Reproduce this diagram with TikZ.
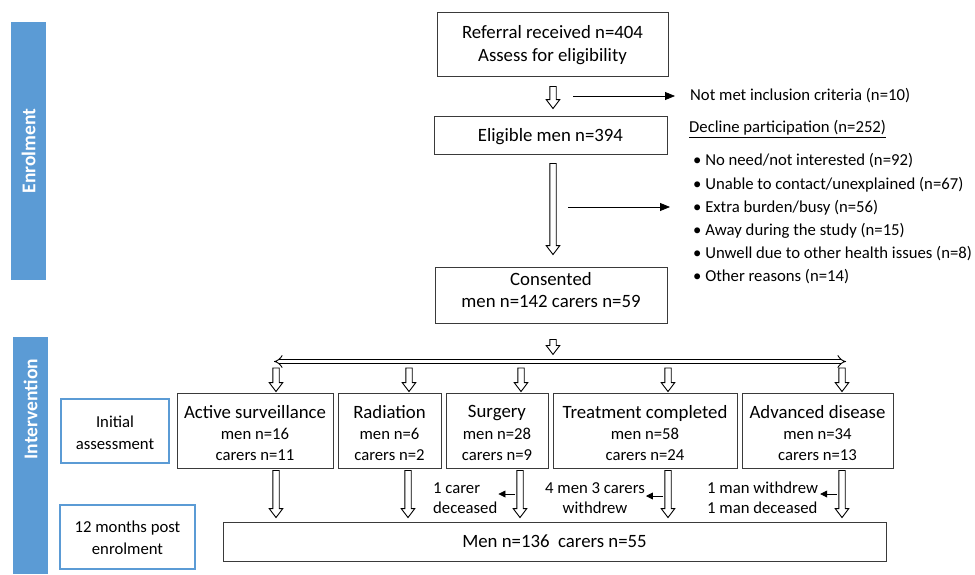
\documentclass[tikz,border=0pt]{standalone}
\usepackage{fontspec}
\setmainfont{Carlito}
\usetikzlibrary{calc,arrows.meta}
\definecolor{barblue}{HTML}{5B9BD5}
\definecolor{boxline}{HTML}{3A3A3A}
\newcommand\fbig{\fontsize{18.8}{22.5}\selectfont}
\newcommand\fsm{\fontsize{16.7}{20.5}\selectfont}
\newcommand\fbar{\fontsize{19.5}{22}\selectfont\bfseries}
% hollow down arrow: #1 start, #2 end (vertical)
\newcommand\hollowdown[2]{%
  \draw[hollow] let \p1=#1, \p2=#2 in
    (\x1-3.2pt,\y1) -- (\x1-3.2pt,\y2+9pt) -- (\x1-6.8pt,\y2+9pt) -- (\x1,\y2)
    -- (\x1+6.8pt,\y2+9pt) -- (\x1+3.2pt,\y2+9pt) -- (\x1+3.2pt,\y1) -- cycle;}
\begin{document}
\begin{tikzpicture}[x=1pt,y=-1pt,
  box/.style={draw=boxline, line width=0.9pt, inner sep=0pt, align=center},
  bluebox/.style={draw=barblue, line width=1.4pt, inner sep=0pt, align=center, font=\fsm},
  hollow/.style={draw=black, line width=0.9pt, fill=white},
  thinarrow/.style={line width=0.8pt, -{Triangle[length=10pt,width=8pt]}},
  smallarrow/.style={line width=0.8pt, -{Triangle[length=7pt,width=7pt]}},
  lbl/.style={inner sep=0pt, font=\fsm},
  gtext/.style={inner sep=0pt, align=center, font=\fsm}]
\useasboundingbox (0,0) rectangle (975,574);

% side bars
\node[fill=barblue, minimum width=258, minimum height=35, rotate=90, text=white, font=\fbar, inner sep=0pt] (enr) at (28.5,151) {Enrolment};
\node[fill=barblue, minimum width=237, minimum height=35, rotate=90, inner sep=0pt] (intbar) at (30.5,455.5) {};
\node[rotate=90, text=white, font=\fbar, inner sep=0pt] (inttxt) at (30.5,409) {Intervention};

% phase labels
\node[bluebox, minimum width=108, minimum height=64] (init) at (115,431) {};
\node[gtext] (inittx) at (115,433) {Initial\\[1pt]assessment};
\node[bluebox, minimum width=135, minimum height=64] (twelve) at (127.5,537) {};
\node[gtext] (twelvetx) at (127.5,538) {12 months post\\[1pt]enrolment};

% enrolment boxes
\node[box, font=\fbig, minimum width=231, minimum height=64] (ref) at (552.5,44) {};
\node[gtext, font=\fbig] (reftx) at (552.5,45) {Referral received n=404\\[0.5pt]Assess for eligibility};
\node[box, font=\fbig, minimum width=233, minimum height=38] (elig) at (550.5,135) {};
\node[gtext, font=\fbig] (eligtx) at (550.5,136.5) {Eligible men n=394};
\node[box, font=\fbig, minimum width=232, minimum height=56] (cons) at (551,295) {};
\node[gtext, font=\fbig] (constx) at (551,290) {Consented\\men n=142 carers n=59};

% right texts
\node[lbl, anchor=west] (nm) at (690,96) {Not met inclusion criteria (n=10)};
\node[lbl, anchor=west] (dec) at (689,129) {\underline{Decline participation (n=252)}};
\node[lbl, anchor=west] (d1) at (693,161) {• No need/not interested (n=92)};
\node[lbl, anchor=west] (d2) at (693,184.5) {• Unable to contact/unexplained (n=67)};
\node[lbl, anchor=west] (d3) at (693,208) {• Extra burden/busy (n=56)};
\node[lbl, anchor=west] (d4) at (693,231) {• Away during the study (n=15)};
\node[lbl, anchor=west] (d5) at (693,254) {• Unwell due to other health issues (n=8)};
\node[lbl, anchor=west] (d6) at (693,277) {• Other reasons (n=14)};

% thin arrows
\coordinate (t1a) at (573,96);
\coordinate (t1b) at (675,96);
\coordinate (t2a) at (568,207);
\coordinate (t2b) at (670,207);
\draw[thinarrow] (t1a) -- (t1b);
\draw[thinarrow] (t2a) -- (t2b);

% hollow arrows in enrolment
\hollowdown{($(ref.south)+(0.5,10)$)}{($(elig.north)+(2.5,-7)$)}
\hollowdown{($(elig.south)+(2.5,9)$)}{($(cons.north)+(2,-12)$)}
\hollowdown{($(cons.south)+(2,16)$)}{($(cons.south)+(2,31)$)}

% horizontal distribution arrow
\coordinate (barL) at (274,361.5);
\coordinate (barR) at (846,361.5);
\draw[double, double distance=3.6pt, line width=0.9pt, {Implies}-{Implies}] (barL) -- (barR);

% group boxes
\node[box, minimum width=156, minimum height=75] (as) at (255,430.5) {};
\node[box, minimum width=103, minimum height=75] (rad) at (389.5,430.5) {};
\node[box, minimum width=102, minimum height=75] (sur) at (497,430.5) {};
\node[box, minimum width=184, minimum height=75] (trt) at (645,430.5) {};
\node[box, minimum width=151, minimum height=75] (adv) at (817.5,430.5) {};
\node[gtext] (astx) at (255,433) {{\fbig Active surveillance}\\[1pt]men n=16\\[0.5pt]carers n=11};
\node[gtext] (radtx) at (389.5,433) {{\fbig Radiation}\\[1pt]men n=6\\[0.5pt]carers n=2};
\node[gtext] (surtx) at (497,433) {{\fbig Surgery}\\[1pt]men n=28\\[0.5pt]carers n=9};
\node[gtext] (trttx) at (645,433) {{\fbig Treatment completed}\\[1pt]men n=58\\[0.5pt]carers n=24};
\node[gtext] (advtx) at (817.5,433) {{\fbig Advanced disease}\\[1pt]men n=34\\[0.5pt]carers n=13};

% final box
\node[box, font=\fbig, minimum width=663, minimum height=39] (fin) at (554.5,541.5) {Men n=136\ \ carers n=55};

% arrow x positions
\coordinate (x1) at (276,0);
\coordinate (x2) at (409,0);
\coordinate (x3) at (521,0);
\coordinate (x4) at (668,0);
\coordinate (x5) at (842,0);

\hollowdown{($(x1 |- barL)+(0,6.5)$)}{($(x1 |- as.north)+(0,-1)$)}
\hollowdown{($(x2 |- barL)+(0,6.5)$)}{($(x2 |- rad.north)+(0,-1)$)}
\hollowdown{($(x3 |- barL)+(0,6.5)$)}{($(x3 |- sur.north)+(0,-1)$)}
\hollowdown{($(x4 |- barL)+(0,6.5)$)}{($(x4 |- trt.north)+(0,-1)$)}
\hollowdown{($(x5 |- barL)+(0,6.5)$)}{($(x5 |- adv.north)+(0,-1)$)}

\hollowdown{($(x1 |- as.south)+(0,2)$)}{($(x1 |- fin.north)+(0,-4)$)}
\hollowdown{($(x2 |- rad.south)+(-1,2)$)}{($(x2 |- fin.north)+(-1,-4)$)}
\hollowdown{($(x3 |- sur.south)+(-1,2)$)}{($(x3 |- fin.north)+(-1,-4)$)}
\hollowdown{($(x4 |- trt.south)+(0,2)$)}{($(x4 |- fin.north)+(0,-4)$)}
\hollowdown{($(x5 |- adv.south)+(0,2)$)}{($(x5 |- fin.north)+(0,-4)$)}

% side labels
\node[lbl, align=left, anchor=west] (l1) at (433,498) {1 carer\\deceased};
\node[lbl, align=center] (l2) at (595,498) {4 men 3 carers\\withdrew};
\node[lbl, align=left, anchor=west] (l3) at (707,498) {1 man withdrew\\1 man deceased};

\coordinate (s1) at (515,494);
\coordinate (s2) at (663,496);
\coordinate (s3) at (837,494);
\draw[smallarrow] (s1) -- ($(s1 -| l1.east)+(1,0)$);
\draw[smallarrow] (s2) -- ($(s2 -| l2.east)+(1,0)$);
\draw[smallarrow] (s3) -- ($(s3 -| l3.east)+(2,0)$);
\end{tikzpicture}
\end{document}
